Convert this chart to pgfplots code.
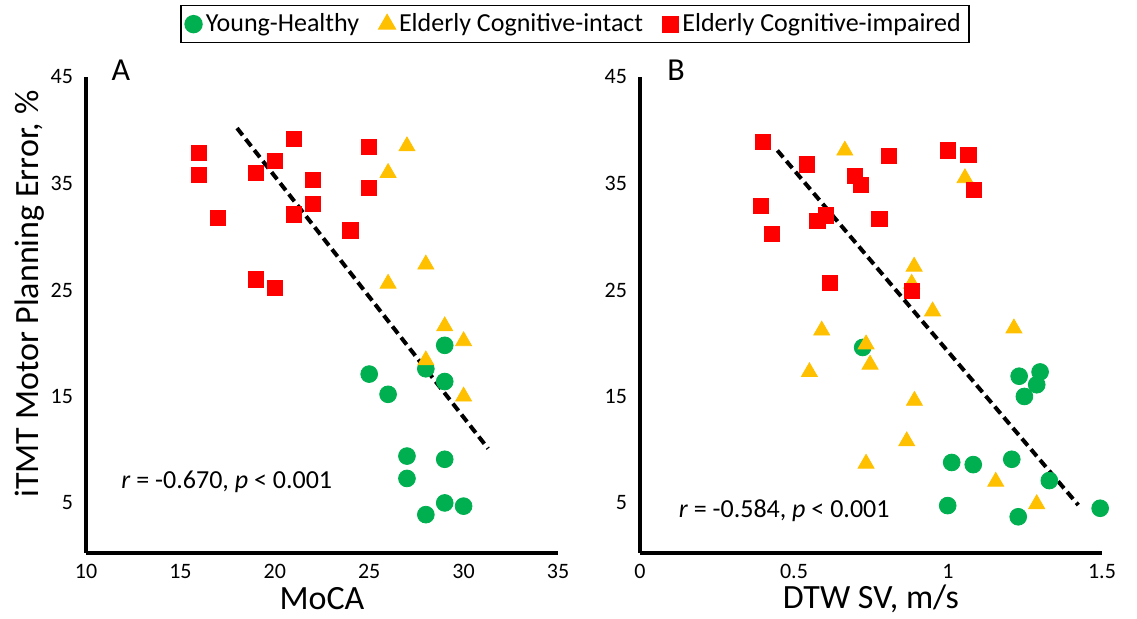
\documentclass[border=0pt]{standalone}
\usepackage{fontspec}
\setmainfont{Carlito}
\usepackage{pgfplots}
\pgfplotsset{compat=1.18}
\definecolor{yhgreen}{RGB}{0,176,80}
\definecolor{eciyellow}{RGB}{255,192,0}
\definecolor{ecired}{RGB}{255,0,0}

\pgfplotsset{
  panel/.style={
    scale only axis,
    height=238pt,
    axis x line=bottom, axis y line=left,
    axis line style={line width=2pt,-},
    major tick length=0pt,
    ymin=0.3, ymax=45,
    ytick={5,15,25,35,45},
    tick label style={font=\fontsize{11}{13}\selectfont,/pgf/number format/assume math mode=true},
    xticklabel style={yshift=-2pt},
    yticklabel style={xshift=-3pt},
    label style={font=\fontsize{17}{20}\selectfont,inner sep=0pt},
    xlabel style={at={(axis description cs:0.5,-0.096)},anchor=center},
    clip=false,
  },
  yh/.style={only marks,mark=*,mark size=4.2pt,color=yhgreen},
  eci/.style={only marks,mark=triangle*,mark size=4.6pt,color=eciyellow},
  ecimp/.style={only marks,mark=square*,mark size=3.8pt,color=ecired},
  fit/.style={black,line width=2pt,dash pattern=on 4.5pt off 2.5pt,no marks,forget plot},
}

\begin{document}
\begin{tikzpicture}
\useasboundingbox (0,0) rectangle (568.5pt,309.5pt);

% panel A: MoCA
\begin{axis}[panel,
  at={(43pt,33pt)}, anchor=south west,
  width=236pt,
  xmin=10, xmax=35,
  xtick={10,15,20,25,30,35},
  xlabel={MoCA},
  ylabel={iTMT Motor Planning Error, \%},
  ylabel style={at={(axis description cs:-0.1186,0.544)},anchor=center},
  legend style={at={(axis description cs:1.036,1.111)},anchor=center,
    legend columns=-1,draw=black,line width=0.8pt,
    font=\fontsize{13}{15}\selectfont,inner sep=2pt,
    /tikz/every even column/.append style={column sep=8pt}},
]
\addplot[yh] coordinates {
  (29,19.8) (28,17.6) (25,17.1) (29,16.4) (26,15.2) (27,9.4)
  (29,9.1) (27,7.3) (29,5.0) (30,4.7) (28,3.9)
};
\addlegendentry{Young-Healthy}
\addplot[eci] coordinates {
  (27,38.5) (26,36.0) (28,27.4) (26,25.6) (29,21.6) (30,20.2)
  (28,18.4) (30,15.0)
};
\addlegendentry{Elderly Cognitive-intact}
\addplot[ecimp] coordinates {
  (16,37.9) (16,35.8) (17,31.8) (19,36.0) (20,37.1) (21,39.2)
  (22,35.3) (22,33.1) (21,32.1) (19,26.0) (20,25.2) (25,38.4)
  (25,34.6) (24,30.6)
};
\addlegendentry{Elderly Cognitive-impaired}
\addplot[fit] coordinates {(18,40.2) (31.3,10.1)};
\node[anchor=west,font=\fontsize{13}{15}\selectfont] at (axis cs:11.5,7.0)
  {\textit{r} = -0.670, \textit{p} < 0.001};
\node[font=\fontsize{16}{19}\selectfont] at (axis description cs:0.074,1.015) {A};
\end{axis}

% panel B: DTW SV
\begin{axis}[panel,
  at={(320pt,33pt)}, anchor=south west,
  width=231pt,
  xmin=0, xmax=1.5,
  xtick={0,0.5,1,1.5},
  xlabel={DTW SV, m/s},
]
\addplot[yh] coordinates {
  (0.723,19.6) (1.231,16.9) (1.299,17.3) (1.288,16.1) (1.248,15.0)
  (1.012,8.8) (1.082,8.6) (1.207,9.1) (1.329,7.1) (0.999,4.75)
  (1.228,3.7) (1.494,4.5)
};
\addplot[eci] coordinates {
  (0.665,38.1) (1.055,35.5) (0.89,27.2) (0.882,25.6) (0.95,23.0)
  (1.214,21.4) (0.59,21.2) (0.734,19.9) (0.747,18.0) (0.55,17.3)
  (0.891,14.6) (0.866,10.8) (0.734,8.7) (1.155,7.0) (1.288,4.9)
};
\addplot[ecimp] coordinates {
  (0.40,38.9) (0.543,36.8) (0.698,35.7) (0.718,34.9) (0.808,37.6)
  (0.392,32.9) (0.576,31.5) (0.604,32.0) (0.427,30.3) (0.777,31.7)
  (0.617,25.7) (1.0,38.1) (1.066,37.7) (1.084,34.4) (0.882,24.9)
};
\addplot[fit] coordinates {(0.446,38.1) (1.423,4.8)};
\node[anchor=west,font=\fontsize{13}{15}\selectfont] at (axis cs:0.103,4.3)
  {\textit{r} = -0.584, \textit{p} < 0.001};
\node[font=\fontsize{16}{19}\selectfont] at (axis description cs:0.078,1.015) {B};
\end{axis}
\end{tikzpicture}
\end{document}
